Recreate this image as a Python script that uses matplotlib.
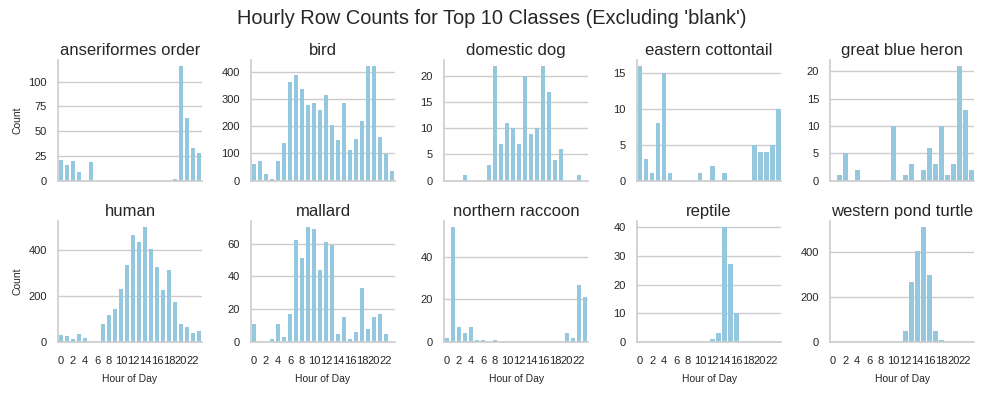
import numpy as np
import matplotlib
matplotlib.use("Agg")
import matplotlib.pyplot as plt
import seaborn as sns

# 数据: 每个类别 0-23 小时的行数
hours = list(range(24))
classes = ["anseriformes order", "bird", "domestic dog", "eastern cottontail", "great blue heron",
           "human", "mallard", "northern raccoon", "reptile", "western pond turtle"]

anseriformes = [21, 16, 20, 9, 0, 19, 0, 0, 0, 0, 0, 0, 0, 0, 0, 0, 0, 0, 0, 2, 116, 63, 33, 28]
bird = [60, 71, 26, 7, 71, 139, 364, 390, 337, 281, 285, 259, 315, 206, 150, 285, 112, 154, 221, 424, 424, 161, 97, 37]
domestic_dog = [0, 0, 0, 1, 0, 0, 0, 3, 22, 7, 11, 10, 7, 20, 9, 10, 22, 17, 4, 6, 0, 0, 1, 0]
cottontail = [16, 3, 1, 8, 15, 1, 0, 0, 0, 0, 1, 0, 2, 0, 1, 0, 0, 0, 0, 5, 4, 4, 5, 10]
heron = [0, 1, 5, 0, 2, 0, 0, 0, 0, 0, 10, 0, 1, 3, 0, 2, 6, 3, 10, 1, 3, 21, 13, 2]
human = [30, 25, 12, 34, 16, 0, 0, 78, 118, 145, 230, 336, 465, 434, 500, 403, 327, 225, 314, 172, 78, 65, 38, 47]
mallard = [11, 0, 0, 2, 11, 3, 17, 62, 51, 70, 69, 44, 61, 59, 5, 15, 2, 6, 33, 8, 15, 17, 5, 0]
raccoon = [2, 54, 7, 4, 7, 1, 1, 0, 1, 0, 0, 0, 0, 0, 0, 0, 0, 0, 0, 0, 4, 2, 27, 21]
reptile = [0, 0, 0, 0, 0, 0, 0, 0, 0, 0, 0, 0, 1, 3, 40, 27, 10, 0, 0, 0, 0, 0, 0, 0]
pond_turtle = [0, 0, 0, 0, 0, 0, 0, 0, 0, 0, 0, 0, 48, 266, 406, 510, 297, 48, 7, 0, 0, 0, 0, 0]

counts = [anseriformes, bird, domestic_dog, cottontail, heron,
          human, mallard, raccoon, reptile, pond_turtle]

sns.set_theme(style="whitegrid")
plt.rcParams["font.family"] = ["Liberation Sans", "DejaVu Sans"]

fig, axes = plt.subplots(2, 5, figsize=(9.83, 3.93), dpi=100, sharex=True)
bar_color = "#95c8df"
text_color = "#262626"

for ax, name, vals in zip(axes.flat, classes, counts):
    ax.bar(hours, vals, width=0.8, color=bar_color, linewidth=0)
    ax.set_title(name, fontsize=12, pad=4, color=text_color)
    ax.set_xlim(-0.5, 23.5)
    ax.grid(axis="x", visible=False)
    ax.grid(axis="y", color="#cccccc", linewidth=1)
    ax.tick_params(labelsize=8, pad=2, colors=text_color)
    sns.despine(ax=ax)
    for s in ["left", "bottom"]:
        ax.spines[s].set_color("#cccccc")
        ax.spines[s].set_linewidth(1.2)

for ax in axes[1]:
    ax.set_xticks(range(0, 24, 2))
    ax.set_xticklabels([str(h) for h in range(0, 24, 2)])
    ax.tick_params(axis="x", pad=4)
    ax.set_xlabel("Hour of Day", fontsize=7.5, labelpad=6, color=text_color)
for ax in axes[:, 0]:
    ax.set_ylabel("Count", fontsize=7.5, color=text_color)

fig.suptitle("Hourly Row Counts for Top 10 Classes (Excluding 'blank')", fontsize=14.4,
             y=0.977, color=text_color)
fig.subplots_adjust(left=0.059, right=0.991, top=0.847, bottom=0.130, wspace=0.34, hspace=0.34)

plt.savefig("out.png", dpi=100)
plt.close()
